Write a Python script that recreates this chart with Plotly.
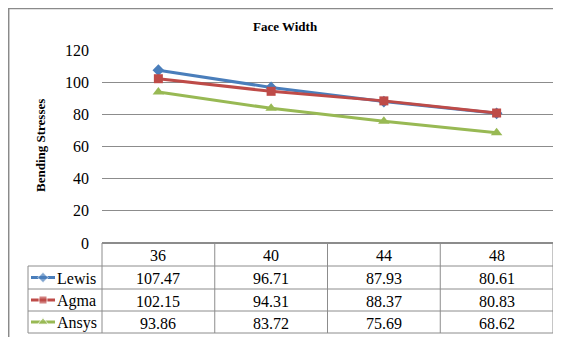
import plotly.graph_objects as go

W, H = 561, 337
OFF = 8  # page body offset of the figure

categories = ["36", "40", "44", "48"]
series_names = ["Lewis", "Agma", "Ansys"]
lewis = [107.47, 96.71, 87.93, 80.61]
agma = [102.15, 94.31, 88.37, 80.83]
ansys = [93.86, 83.72, 75.69, 68.62]
series_values = [lewis, agma, ansys]
y_ticks = [0, 20, 40, 60, 80, 100, 120]

colors = ["#4A7EBB", "#BE4B48", "#98B954"]
symbols = ["diamond", "square", "triangle-up"]
msizes = [9, 9, 10]

SERIF = "Liberation Serif"

# layout geometry in screen pixels
PL, PR, PT, PB = 102, 553, 50, 243
ROWS = [243, 266, 289, 311, 333]
LEG_L = 28
GRID = "#8c8c8c"


def px(x):
    return (x - OFF) / W


def py(y):
    return 1 - (y - OFF) / H


fig = go.Figure()

for name, vals, c, s, ms in zip(series_names, series_values, colors, symbols, msizes):
    fig.add_trace(go.Scatter(
        x=categories, y=vals, name=name, mode="lines+markers",
        line=dict(color=c, width=3),
        marker=dict(symbol=s, size=ms, color=c),
        xaxis="x", yaxis="y", showlegend=False, cliponaxis=False,
    ))

# legend keys inside the table (pixel-coordinate overlay axis)
for i, (c, s, ms) in enumerate(zip(colors, symbols, msizes)):
    yc = (ROWS[i + 1] + ROWS[i + 2]) / 2
    fig.add_trace(go.Scatter(
        x=[31, 43, 55], y=[yc, yc, yc], mode="lines+markers",
        line=dict(color=c, width=3),
        marker=dict(symbol=s, size=[0, ms - 1, 0], color=c),
        xaxis="x2", yaxis="y2", showlegend=False, hoverinfo="skip",
    ))

shapes = []
line_style = dict(color=GRID, width=1)
# outer border (top and left visible)
shapes.append(dict(type="line", xref="paper", yref="paper", x0=px(8), x1=px(575), y0=py(8.5), y1=py(8.5), line=dict(color="#8a8a8a", width=1.5)))
shapes.append(dict(type="line", xref="paper", yref="paper", x0=px(8.7), x1=px(8.7), y0=py(8), y1=py(350), line=dict(color="#8a8a8a", width=1.5)))

# table horizontal lines
for k, yy in enumerate(ROWS):
    x0 = PL if k == 0 else LEG_L
    shapes.append(dict(type="line", xref="paper", yref="paper", x0=px(x0), x1=px(PR), y0=py(yy), y1=py(yy), line=line_style))
# table vertical lines
colw = (PR - PL) / len(categories)
for j in range(len(categories) + 1):
    xx = PL + j * colw
    shapes.append(dict(type="line", xref="paper", yref="paper", x0=px(xx), x1=px(xx), y0=py(ROWS[0]), y1=py(ROWS[-1]), line=line_style))
shapes.append(dict(type="line", xref="paper", yref="paper", x0=px(LEG_L), x1=px(LEG_L), y0=py(ROWS[1]), y1=py(ROWS[-1]), line=line_style))

annotations = []
tfont = dict(family=SERIF, size=16, color="#000000")
for j, cat in enumerate(categories):
    xc = PL + (j + 0.5) * colw
    annotations.append(dict(text=cat, x=px(xc), y=py((ROWS[0] + ROWS[1]) / 2 + 1), xref="paper", yref="paper",
                            showarrow=False, font=tfont, xanchor="center", yanchor="middle"))
    for i, vals in enumerate(series_values):
        yc = (ROWS[i + 1] + ROWS[i + 2]) / 2 + 1
        annotations.append(dict(text=f"{vals[j]:.2f}", x=px(xc), y=py(yc), xref="paper", yref="paper",
                                showarrow=False, font=tfont, xanchor="center", yanchor="middle"))
for i, name in enumerate(series_names):
    yc = (ROWS[i + 1] + ROWS[i + 2]) / 2 + 1
    annotations.append(dict(text=name, x=px(55), y=py(yc), xref="paper", yref="paper",
                            showarrow=False, font=tfont, xanchor="left", yanchor="middle"))

annotations.append(dict(text="<b>Face Width</b>", x=px(285), y=py(27), xref="paper", yref="paper",
                        showarrow=False, font=dict(family=SERIF, size=13, color="#000000"),
                        xanchor="center", yanchor="middle"))
annotations.append(dict(text="<b>Bending Stresses</b>", x=px(41), y=py(146), xref="paper", yref="paper",
                        showarrow=False, textangle=-90, font=dict(family=SERIF, size=13, color="#000000"),
                        xanchor="center", yanchor="middle"))

fig.update_layout(
    width=W, height=H,
    margin=dict(l=0, r=0, t=0, b=0, autoexpand=False),
    paper_bgcolor="white", plot_bgcolor="rgba(0,0,0,0)",
    xaxis=dict(domain=[px(PL), px(PR)], type="category", range=[-0.5, 3.5], automargin=False,
               showticklabels=False, showgrid=False, zeroline=False, ticks=""),
    yaxis=dict(domain=[py(PB), py(PT)], range=[0, 120], tickvals=y_ticks, automargin=False,
               showgrid=True, gridcolor=GRID, gridwidth=1, zeroline=True, zerolinecolor=GRID,
               ticks="", ticklabelstandoff=12, showline=False,
               tickfont=dict(family=SERIF, size=16, color="#000000")),
    xaxis2=dict(domain=[0, 1], range=[OFF, W + OFF], visible=False, fixedrange=True),
    yaxis2=dict(domain=[0, 1], range=[H + OFF, OFF], visible=False, fixedrange=True),
    shapes=shapes,
    annotations=annotations,
    showlegend=False,
)

fig.write_html("out.html")
